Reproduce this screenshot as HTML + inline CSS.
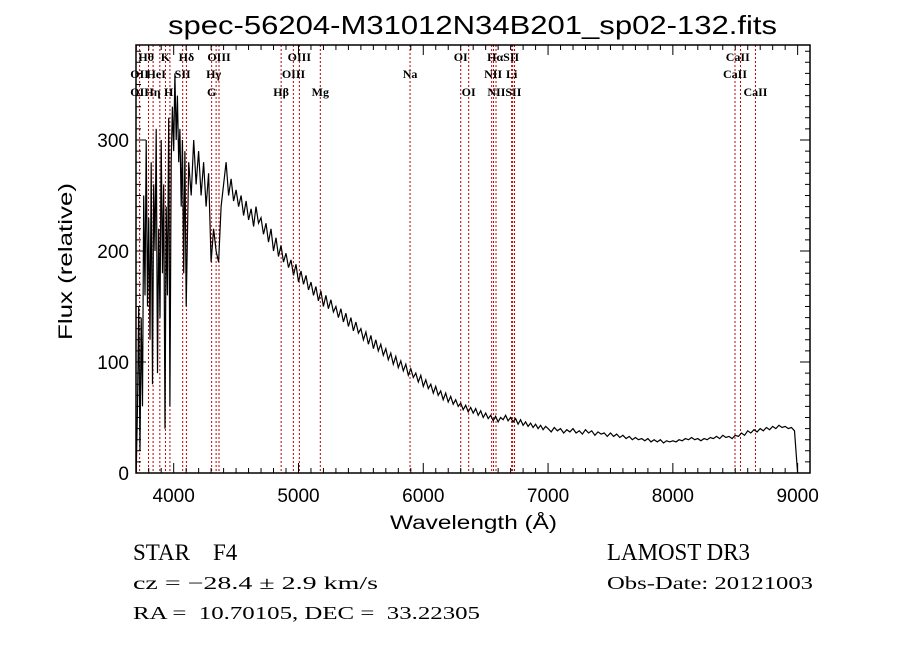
<!DOCTYPE html>
<html><head><meta charset="utf-8"><style>
body{margin:0;background:#fff;}
svg text{font-family:"Liberation Sans",sans-serif;}
.lbl{font-family:"Liberation Serif",serif;font-size:12px;font-weight:bold;}
.info{font-family:"Liberation Serif",serif;}
</style></head><body>
<svg id="chart" width="900" height="649" xmlns="http://www.w3.org/2000/svg">
<rect width="900" height="649" fill="#fff"/>
<text x="168" y="34" textLength="609" lengthAdjust="spacingAndGlyphs" font-size="26" font-family="Liberation Mono, monospace" fill="#000">spec-56204-M31012N34B201_sp02-132.fits</text>
<g id="lines"></g>
<g id="spec"></g>
<g id="axes"></g>
<g id="labels"></g>
<text transform="translate(72,340) rotate(-90)" textLength="157" lengthAdjust="spacingAndGlyphs" font-size="19" font-family="Liberation Mono, monospace">Flux (relative)</text>
<text x="390" y="529" textLength="167" lengthAdjust="spacingAndGlyphs" font-size="19" font-family="Liberation Mono, monospace">Wavelength (Å)</text>
<text class="info" x="133" y="560" font-size="23" xml:space="preserve">STAR    F4</text>
<text class="info" x="133" y="589" font-size="18" textLength="245" lengthAdjust="spacingAndGlyphs" xml:space="preserve">cz = −28.4 ± 2.9 km/s</text>
<text class="info" x="133" y="619" font-size="18" textLength="347" lengthAdjust="spacingAndGlyphs" xml:space="preserve">RA =  10.70105, DEC =  33.22305</text>
<text class="info" x="607" y="560" font-size="24" textLength="143" lengthAdjust="spacingAndGlyphs">LAMOST DR3</text>
<text class="info" x="607" y="589" font-size="18" textLength="206" lengthAdjust="spacingAndGlyphs">Obs-Date: 20121003</text>
</svg>
<script>
const blueStart = 3700, blueStep = 10;
const blueFlux = [0,60,150,20,140,60,250,160,300,150,
230,120,280,80,260,200,310,90,220,140,
300,180,260,40,240,160,320,60,280,330,
290,360,300,340,280,310,240,300,180,290];
const midStart = 4100, midStep = 20;
const midFlux = [150,280,250,300,260,290,250,280,240,270,
190,220,200,190,240,260,280,250,265,245,
255,240,250,232,245,228,238,222,240,225,
230,215,225,208,220,200,212,195,205,190,
198,185,192,178,188,172,182,170,178,165,
172,160,168,155,164,150,160,148,156,145,
150,140,148,136,144,132,140,128,136,126,
130,120,127,116,124,112,120,110,116,106,
112,102,108,98,105,95,101,92,98,88,
94,86,90,82,88,78,84,76,80,72,
78,70,74,66,72,64,69,62,66,60,
63,57,61,55,59,54,58,52,56,50,
54,49,52,47,51,46,50,48,52,47,
50,46,49,44,48,43,46,42,45,41,
44,40,43,39,42];
const redStart = 7000, redStep = 25;
const redFlux = [40,37,41,38,40,36,39,37,40,36,
38,35,39,36,38,34,37,35,36,33,
36,33,35,32,34,31,33,30,32,30,
31,29,31,28,30,28,30,27,29,28,
29,28,30,29,31,30,32,30,31,29,
31,30,32,31,33,31,34,32,33,31,
34,33,36,34,38,36,39,37,40,38,
41,39,42,40,43,41,42,40,41,38,
0];
const lineWaves = [3727,3798,3835,3889,3934,3970,4072,4102,4304,4340,4363,4861,4959,5007,5175,5894,6300,6364,6548,6563,6583,6708,6716,6731,8498,8542,8662];
const labelText = ["Hθ","K","Hδ","OIII","OIII","OI","HαSII","CaII","OII","HeI","SII","Hγ","OIII","Na","NII","Li","CaII","OII","Hη","H","G","Hβ","Mg","OI","NIISII","CaII"];
const labelWave = [3780,3934,4102,4363,5007,6300,6640,8520,3727,3860,4072,4320,4960,5894,6560,6708,8498,3727,3830,3960,4304,4861,5175,6364,6650,8662];
const labelRow = [0,0,0,0,0,0,0,0,1,1,1,1,1,1,1,1,1,2,2,2,2,2,2,2,2,2];
const xTicks = [4000,5000,6000,7000,8000,9000];
const yTicks = [0,100,200,300];

const L=136,R=810,T=45,B=473;
const X0=3698,X1=9099;
const xs=v=>L+(v-X0)/(X1-X0)*(R-L);
const ys=v=>B-1.11*v;
const NS="http://www.w3.org/2000/svg";
function mk(tag,attrs,parent){const e=document.createElementNS(NS,tag);for(const k in attrs)e.setAttribute(k,attrs[k]);parent.appendChild(e);return e;}

const gl=document.getElementById('lines');
lineWaves.forEach(w=>{
  const e=mk('line',{x1:xs(w),x2:xs(w),y1:T,y2:B,stroke:'#c00000','stroke-width':1,'stroke-dasharray':'2,2'},gl);
  
  
});

const pts=[];
blueFlux.forEach((f,i)=>pts.push([blueStart+i*blueStep,f]));
midFlux.forEach((f,i)=>pts.push([midStart+i*midStep,f]));
redFlux.forEach((f,i)=>pts.push([redStart+i*redStep,f]));
const gs=document.getElementById('spec');
let d='';
pts.forEach((p,i)=>{d+=(i?'L':'M')+xs(p[0]).toFixed(1)+','+Math.max(T,ys(p[1])).toFixed(1);});
const p=mk('path',{d:d,fill:'none',stroke:'#000','stroke-width':1.2},gs);



const ga=document.getElementById('axes');
const fr=mk('rect',{x:L,y:T,width:R-L,height:B-T,fill:'none',stroke:'#000','stroke-width':1.5},ga);


let td='';
for(let w=3700;w<=9000;w+=100){const x=xs(w);const len=(w%1000===0)?10:5;td+=`M${x},${B}v${-len}M${x},${T}v${len}`;}
for(let v=0;v<=380;v+=10){const y=ys(v);const len=(v%100===0)?10:5;td+=`M${L},${y}h${len}M${R},${y}h${-len}`;}
const tk=mk('path',{d:td,stroke:'#000','stroke-width':1,fill:'none'},ga);


xTicks.forEach(v=>{
  const t=mk('text',{x:xs(v),y:502,'text-anchor':'middle','font-size':19},ga);t.textContent=v;
  
  
});
yTicks.forEach(v=>{
  const t=mk('text',{x:129,y:ys(v)+7,'text-anchor':'end','font-size':19},ga);t.textContent=v;
  
  
});

const glb=document.getElementById('labels');
const rowY=[61,78,96];
labelText.forEach((s,i)=>{
  const t=mk('text',{x:xs(labelWave[i]),y:rowY[labelRow[i]],'text-anchor':'middle',class:'lbl'},glb);t.textContent=s;
  
  
});
</script>
</body></html>
